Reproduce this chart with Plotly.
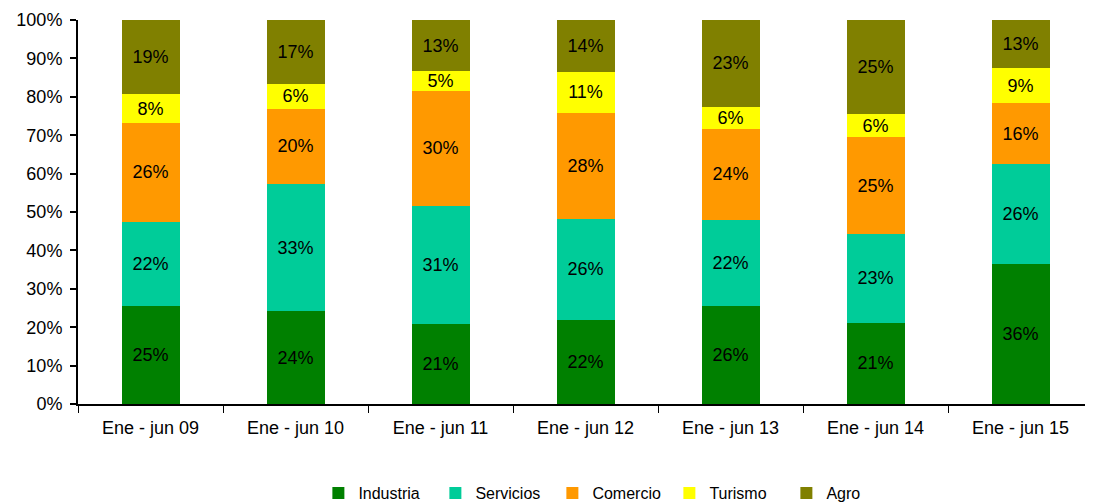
import plotly.graph_objects as go

categories = ["Ene - jun 09", "Ene - jun 10", "Ene - jun 11", "Ene - jun 12",
              "Ene - jun 13", "Ene - jun 14", "Ene - jun 15"]
industria = [25.4, 24.2, 20.8, 21.9, 25.6, 21.1, 36.4]
servicios = [22.0, 33.1, 30.8, 26.3, 22.4, 23.2, 26.0]
comercio = [25.8, 19.6, 29.9, 27.7, 23.6, 25.2, 16.0]
turismo = [7.5, 6.4, 5.2, 10.5, 5.8, 6.0, 9.0]
agro = [19.3, 16.7, 13.3, 13.6, 22.6, 24.5, 12.6]

series = [
    ("Industria", industria, "#008000"),
    ("Servicios", servicios, "#00CC99"),
    ("Comercio", comercio, "#FF9900"),
    ("Turismo", turismo, "#FFFF00"),
    ("Agro", agro, "#808000"),
]

FONT = "Liberation Sans, Arial, sans-serif"

fig = go.Figure()
for name, vals, color in series:
    fig.add_trace(go.Bar(
        name=name, x=categories, y=vals,
        marker=dict(color=color, line=dict(width=0)),
        texttemplate="%{y:.0f}%",
        textposition="inside",
        insidetextanchor="middle",
        textangle=0,
        constraintext="none",
        textfont=dict(color="black", size=18, family=FONT),
        hoverinfo="skip",
    ))

fig.update_layout(
    barmode="stack",
    bargap=0.6,
    width=1085, height=496,
    margin=dict(l=70, r=0, t=12, b=100),
    plot_bgcolor="white",
    paper_bgcolor="white",
    font=dict(family=FONT, size=18, color="black"),
    uniformtext=dict(minsize=18, mode="show"),
    legend=dict(
        orientation="h",
        x=0.525, xanchor="center",
        yref="container",
        y=0.022, yanchor="middle",
        font=dict(size=16, family=FONT),
        itemwidth=30,
        entrywidth=72,
        traceorder="normal",
    ),
    showlegend=True,
)
fig.update_xaxes(
    showline=True, linecolor="black", linewidth=2,
    ticks="outside", ticklen=7, tickcolor="black", tickwidth=1,
    tickson="boundaries",
    showgrid=False,
    automargin=False,
    ticklabelstandoff=6,
    tickfont=dict(size=18, family=FONT),
)
fig.update_yaxes(
    range=[0, 100], dtick=10,
    ticksuffix="%",
    showline=True, linecolor="black", linewidth=2,
    ticks="outside", ticklen=6, tickcolor="black", tickwidth=2,
    showgrid=False, zeroline=False,
    automargin=False,
    ticklabelstandoff=4,
    tickfont=dict(size=18, family=FONT),
)

fig.write_html("out.html")
